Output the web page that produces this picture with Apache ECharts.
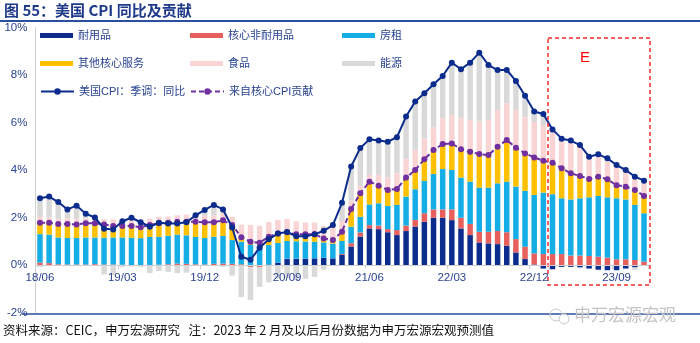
<!DOCTYPE html>
<html><head><meta charset="utf-8">
<script src="https://cdn.jsdelivr.net/npm/echarts@6/dist/echarts.min.js"></script>
<style>html,body{margin:0;padding:0;background:#fff;}#c{width:700px;height:343px;}</style>
</head><body><div id="c"></div>
<script>
var categories = ['18/06','18/07','18/08','18/09','18/10','18/11','18/12',
'19/01','19/02','19/03','19/04','19/05','19/06','19/07','19/08','19/09','19/10','19/11','19/12',
'20/01','20/02','20/03','20/04','20/05','20/06','20/07','20/08','20/09','20/10','20/11','20/12',
'21/01','21/02','21/03','21/04','21/05','21/06','21/07','21/08','21/09','21/10','21/11','21/12',
'22/01','22/02','22/03','22/04','22/05','22/06','22/07','22/08','22/09','22/10','22/11','22/12',
'23/01','23/02','23/03','23/04','23/05','23/06','23/07','23/08','23/09','23/10','23/11','23/12'];

var durable = [-0.05,-0.03,-0.02,-0.04,-0.02,-0.01,0.01,0.0,-0.01,-0.02,-0.03,-0.03,-0.02,-0.03,-0.02,-0.03,-0.04,-0.04,-0.03,-0.04,-0.05,
-0.02,-0.03,-0.05,-0.04,0.02,0.1,0.25,0.26,0.27,0.28,0.30,0.28,0.42,0.78,1.2,
1.54,1.51,1.38,1.26,1.43,1.62,1.82,1.99,1.99,1.89,1.54,1.26,0.95,0.91,0.88,0.81,0.53,0.25,0.02,
-0.15,-0.18,-0.08,-0.08,-0.1,-0.15,-0.2,-0.22,-0.22,-0.15,-0.1,-0.03];

var nondurable = [0.1,0.08,0.03,0.02,0.02,0.02,0.03,0.02,0.02,0.01,-0.02,-0.02,0.0,0.01,0.03,0.06,0.05,0.03,0.02,0.05,0.06,
0.05,0.03,-0.04,-0.04,-0.02,0.0,0.01,0.01,0.0,0.0,-0.02,-0.03,0.04,0.14,0.17,
0.14,0.15,0.13,0.21,0.23,0.28,0.36,0.35,0.35,0.45,0.45,0.47,0.45,0.49,0.55,0.57,0.56,0.52,0.47,
0.46,0.46,0.46,0.4,0.4,0.38,0.35,0.31,0.24,0.24,0.21,0.14];

var rent = [1.2,1.2,1.13,1.12,1.12,1.14,1.12,1.13,1.14,1.15,1.15,1.13,1.18,1.18,1.2,1.22,1.2,1.15,1.12,1.14,1.16,
1.0,0.95,0.85,0.82,0.82,0.83,0.75,0.73,0.72,0.70,0.65,0.62,0.55,0.69,0.66,
0.87,0.94,0.98,1.06,1.22,1.29,1.36,1.49,1.70,1.66,1.69,1.78,1.86,1.86,2.01,2.13,2.21,2.35,2.46,
2.59,2.52,2.35,2.36,2.41,2.47,2.56,2.54,2.57,2.52,2.32,2.04];

var otherServices = [0.53,0.53,0.59,0.63,0.59,0.61,0.60,0.56,0.49,0.50,0.54,0.51,0.52,0.60,0.57,0.57,0.61,0.68,0.69,0.65,0.71,
0.65,0.22,0.22,0.20,0.37,0.40,0.37,0.29,0.30,0.31,0.19,0.18,0.39,0.75,0.99,
0.96,0.74,0.67,0.67,0.80,0.81,0.91,1.01,1.05,1.12,1.19,1.26,1.41,1.37,1.54,1.75,1.64,1.58,1.58,
1.34,1.33,1.26,1.10,0.94,0.77,0.81,0.76,0.55,0.54,0.63,0.73];

var food = [0.19,0.19,0.19,0.2,0.2,0.19,0.2,0.22,0.27,0.27,0.25,0.25,0.25,0.24,0.24,0.24,0.26,0.26,0.24,0.25,0.26,
0.33,0.5,0.62,0.63,0.6,0.57,0.55,0.55,0.5,0.5,0.5,0.48,0.45,0.35,0.31,
0.28,0.45,0.53,0.66,0.78,0.85,0.88,0.96,1.09,1.2,1.31,1.34,1.37,1.48,1.55,1.55,1.59,1.52,1.49,
1.5,1.4,1.25,1.38,1.30,0.94,0.94,0.88,0.85,0.70,0.56,0.64];

var energy = [0.84,0.91,0.73,0.41,0.59,0.21,0.04,-0.40,-0.41,-0.07,0.10,-0.04,-0.32,-0.22,-0.27,-0.31,-0.28,0.01,0.28,0.48,0.20,
-0.43,-1.32,-1.38,-0.84,-0.71,-0.57,-0.54,-0.63,-0.58,-0.5,-0.18,0.15,0.77,1.44,1.6,
1.50,1.45,1.50,1.52,1.79,2.03,1.90,1.81,1.78,2.20,2.06,2.41,2.90,2.31,1.68,1.40,1.22,0.91,0.44,
0.47,0,0,0,0,0,0,0,0,0,-0.1,0];

var cpiYoY = [2.81,2.88,2.65,2.34,2.50,2.16,2.00,1.53,1.50,1.84,1.99,1.80,1.61,1.78,1.75,1.75,1.80,2.09,2.32,2.53,2.34,
1.58,0.35,0.22,0.73,1.08,1.33,1.39,1.21,1.21,1.29,1.44,1.68,2.62,4.15,4.93,
5.29,5.24,5.19,5.38,6.25,6.88,7.23,7.61,7.96,8.52,8.24,8.52,8.94,8.42,8.21,8.21,7.75,7.13,6.46,
6.36,5.71,5.32,5.24,5.05,4.56,4.66,4.49,4.21,4.00,3.72,3.55];

var coreContribution = [1.78,1.78,1.73,1.73,1.71,1.76,1.76,1.71,1.64,1.64,1.64,1.59,1.68,1.76,1.78,1.82,1.82,1.82,1.80,1.80,1.88,
1.68,1.17,0.98,0.94,1.19,1.33,1.38,1.29,1.29,1.29,1.12,1.05,1.40,2.36,3.02,
3.51,3.34,3.16,3.20,3.68,4.00,4.45,4.84,5.09,5.12,4.87,4.77,4.67,4.63,4.98,5.26,4.94,4.70,4.53,
4.39,4.31,4.07,3.86,3.75,3.62,3.72,3.61,3.36,3.30,3.16,2.91];

var yTicks = [-2, 0, 2, 4, 6, 8, 10];

var FONT = "'Liberation Sans','Noto Sans CJK SC',sans-serif";
var BLUE_TXT = '#2a4393';
var colors = {
  durable:'#0b2c8c', nondurable:'#e8605e', rent:'#14ade6', other:'#ffc000',
  food:'#f9d4d4', energy:'#d9d9d9', cpi:'#0b2c8c', core:'#7030a0'
};

function bar(name, data, color){
  return {name:name, type:'bar', stack:'s', data:data, barWidth:'60%',
    itemStyle:{color:color}, emphasis:{disabled:true}, animation:false};
}
function legendItem(name, left, top, isLine){
  return {data:[name], left:left, top:top, padding:0, itemWidth:33, itemHeight:isLine?8:5,
    itemGap:0, textStyle:{color:BLUE_TXT, fontSize:11, fontFamily:FONT, padding:[0,0,0,0]},
    selectedMode:false, icon: isLine? undefined : 'rect'};
}

var gridTop = 27.5, gridBottom = 30.5, plotH = 343 - gridTop - gridBottom;
var zeroOffset = plotH * (0 - yTicks[0]) / (yTicks[yTicks.length-1] - yTicks[0]);

var chart = echarts.init(document.getElementById('c'), null, {renderer:'canvas'});
chart.setOption({
  animation:false,
  grid:{left:35.4, right:51.4, top:gridTop, bottom:gridBottom, containLabel:false},
  legend:[
    legendItem('耐用品',40,30,false),
    legendItem('核心非耐用品',190,30,false),
    legendItem('房租',342,30,false),
    legendItem('其他核心服务',40,58,false),
    legendItem('食品',190,58,false),
    legendItem('能源',342,58,false),
    legendItem('美国CPI：季调：同比',40,86,true),
    legendItem('来自核心CPI贡献',190,86,true)
  ],
  xAxis:{type:'category', data:categories, boundaryGap:true, position:'bottom', offset:-zeroOffset, z:10,
    axisLine:{onZero:false, lineStyle:{color:'#d0d0d0', width:1}},
    axisTick:{show:true, interval:8, length:4, lineStyle:{color:'#d0d0d0'}},
    axisLabel:{interval:8, color:BLUE_TXT, fontSize:11.5, fontFamily:FONT, margin:7},
    splitLine:{show:false}},
  yAxis:{type:'value', min:yTicks[0], max:yTicks[yTicks.length-1], interval:2,
    axisLine:{show:true, lineStyle:{color:'#d0d0d0'}},
    axisTick:{show:false},
    axisLabel:{color:BLUE_TXT, fontSize:11.5, fontFamily:FONT, margin:8,
      formatter:function(v){return v+'%';}},
    splitLine:{show:false}},
  series:[
    bar('耐用品', durable, colors.durable),
    bar('核心非耐用品', nondurable, colors.nondurable),
    bar('房租', rent, colors.rent),
    bar('其他核心服务', otherServices, colors.other),
    bar('食品', food, colors.food),
    bar('能源', energy, colors.energy),
    {name:'美国CPI：季调：同比', type:'line', data:cpiYoY, symbol:'circle', symbolSize:6,
      lineStyle:{color:colors.cpi, width:2}, itemStyle:{color:colors.cpi}, z:5},
    {name:'来自核心CPI贡献', type:'line', data:coreContribution, symbol:'circle', symbolSize:6,
      lineStyle:{color:colors.core, width:2, type:[5,3]}, itemStyle:{color:colors.core}, z:4}
  ],
  graphic:[
    {type:'text', left:4, top:3, style:{text:'图 55：美国 CPI 同比及贡献', font:"bold 15px 'Noto Sans CJK SC',sans-serif", fill:'#1f3a8a'}},
    {type:'line', shape:{x1:0,y1:21,x2:700,y2:21}, style:{stroke:'#2b4e9e', lineWidth:2}},
    {type:'line', shape:{x1:22,y1:314,x2:700,y2:314}, style:{stroke:'#2b4e9e', lineWidth:1.5}},
    {type:'rect', shape:{x:548,y:38,width:102,height:247}, style:{fill:'none', stroke:'#ff2a2a', lineWidth:1.5, lineDash:[4,3]}, z:10},
    {type:'text', x:585, y:58, style:{text:'E', font:"15px 'Liberation Sans',sans-serif", fill:'#ff0000', align:'center', verticalAlign:'middle'}, z:10},
    {type:'text', left:3, top:324, style:{text:'资料来源：CEIC，申万宏源研究   注：2023 年 2 月及以后月份数据为申万宏源宏观预测值', font:"12.5px 'Noto Sans CJK SC',sans-serif", fill:'#111'}},
    {type:'circle', shape:{cx:556, cy:315, r:6}, style:{fill:'none', stroke:'#c8c8c8', lineWidth:1}},
    {type:'circle', shape:{cx:564, cy:319, r:5}, style:{fill:'#fff', stroke:'#c8c8c8', lineWidth:1}},
    {type:'text', left:574, top:306, style:{text:'申万宏源宏观', font:"17px 'Noto Sans CJK SC',sans-serif", fill:'#c4c4c4'}}
  ]
});
</script></body></html>
